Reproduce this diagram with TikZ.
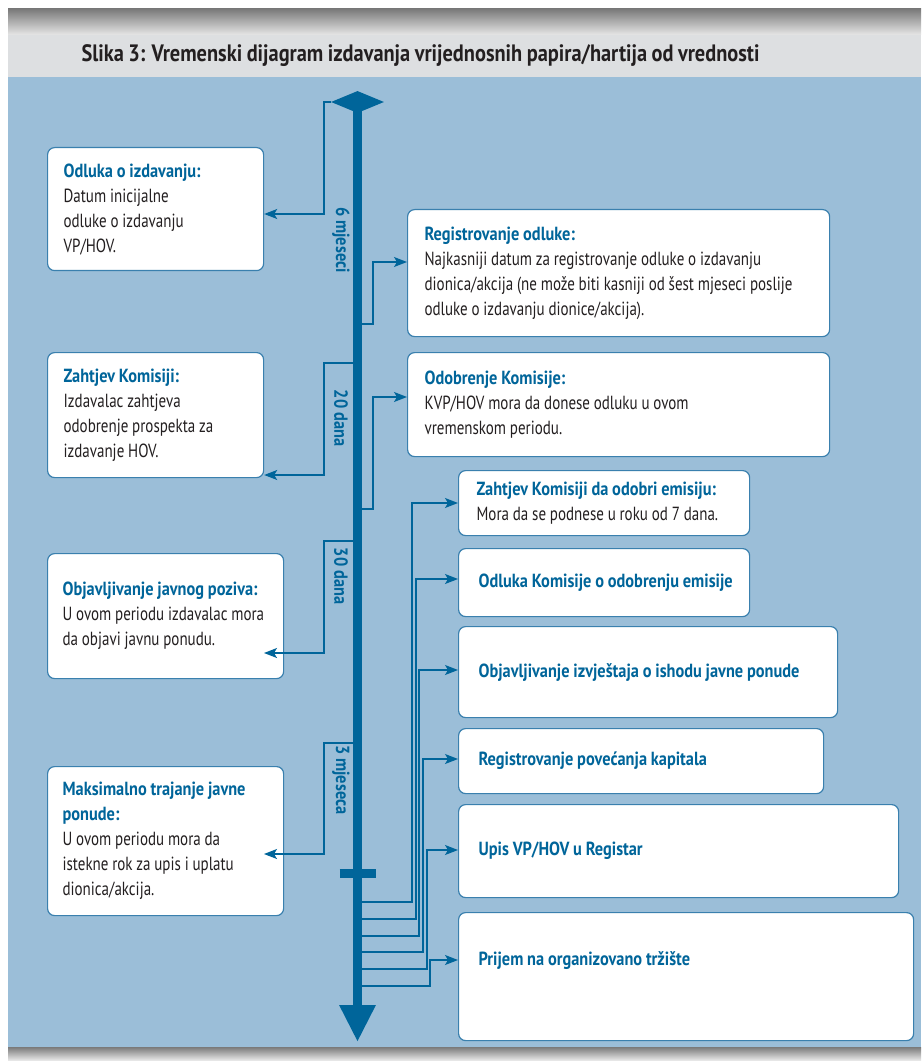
\documentclass[tikz,border=0pt]{standalone}
\usepackage{fontspec}
\setmainfont{PT Sans}[FakeStretch=0.79,BoldFeatures={FakeStretch=0.86}]
\usetikzlibrary{arrows.meta,positioning,shapes.geometric}
\definecolor{PanelBlue}{HTML}{9BBED8}
\definecolor{LineBlue}{HTML}{00659A}
\definecolor{FrameBlue}{HTML}{3A80AE}
\definecolor{TextGray}{HTML}{231F20}
\definecolor{BandGray}{HTML}{DDDFE1}
\definecolor{BarDark}{HTML}{7A7A7A}
\definecolor{BarLight}{HTML}{E6E6E6}
\newcommand{\boxhead}[1]{\mbox{\bfseries\color{LineBlue}#1}}
\newcommand{\bodyfont}{\fontsize{19}{25}\selectfont}
\newcommand{\narrowspace}{\spaceskip 3.8pt plus 1pt minus 0.5pt\relax}
\newcommand{\spanfont}{\fontsize{19}{20}\selectfont\bfseries\narrowspace}
\newcommand{\titlefont}{\fontsize{23.7}{28}\selectfont\bfseries\spaceskip 4.5pt\relax}

\begin{document}
\begin{tikzpicture}[x=1pt,y=-1pt,
  every node/.style={font=\bodyfont,text=TextGray},
  card/.style={draw=FrameBlue,line width=1.2pt,fill=white,rounded corners=7pt,
    anchor=north west,align=left,inner xsep=16pt,inner ysep=4pt,
    execute at begin node=\narrowspace},
  link/.style={draw=LineBlue,line width=1.3pt,
    -{Stealth[length=13pt,width=10pt,inset=3pt]}},
  span/.style={font=\spanfont,text=LineBlue,rotate=-90}]
  \useasboundingbox (0,0) rectangle (921,1064);

  % frame: bars, title band, panel
  \shade[top color=BarDark,bottom color=BarLight] (8,9) rectangle (921,35);
  \fill[BandGray] (8,35) rectangle (921,77);
  \fill[PanelBlue] (8,77) rectangle (921,1047);
  \shade[top color=BarDark,bottom color=BarLight] (8,1047) rectangle (921,1060);
  \node[anchor=west,font=\titlefont] (title) at (78,56)
    {Slika 3: Vremenski dijagram izdavanja vrijednosnih papira/hartija od vrednosti};

  % left column
  \node[card,minimum width=216pt,minimum height=123pt,text width=184pt] (odluka) at (47,147)
    {\boxhead{Odluka o izdavanju:}\\Datum inicijalne\\odluke o izdavanju\\VP/HOV.};
  \node[card,minimum width=216pt,minimum height=125pt,text width=184pt] (zahtjev) at (47,352)
    {\boxhead{Zahtjev Komisiji:}\\Izdavalac zahtjeva\\odobrenje prospekta za\\izdavanje HOV.};
  \node[card,inner xsep=15pt,minimum width=236pt,minimum height=125pt,text width=206pt] (poziv) at (47,553)
    {\boxhead{Objavljivanje javnog poziva:}\\U ovom periodu izdavalac mora\\da objavi javnu ponudu.};
  \node[card,inner xsep=15pt,minimum width=236pt,minimum height=149pt,text width=206pt] (trajanje) at (47,766)
    {\boxhead{Maksimalno trajanje javne}\\\boxhead{ponude:}\\U ovom periodu mora da\\istekne rok za upis i uplatu\\dionica/akcija.};

  % right column
  \node[card,inner xsep=17pt,minimum width=422pt,minimum height=127pt,text width=388pt] (regodluke) at (407,209)
    {\boxhead{Registrovanje odluke:}\\Najkasniji datum za registrovanje odluke o izdavanju\\dionica/akcija (ne može biti kasniji od šest mjeseci poslije\\odluke o izdavanju dionice/akcija).};
  \node[card,inner xsep=17pt,minimum width=422pt,minimum height=104pt,text width=388pt] (odobrenje) at (407,352)
    {\boxhead{Odobrenje Komisije:}\\KVP/HOV mora da donese odluku u ovom\\vremenskom periodu.};
  \node[card,inner xsep=18pt,minimum width=291pt,minimum height=65pt,text width=255pt] (emisija) at (458,470)
    {\boxhead{Zahtjev Komisiji da odobri emisiju:}\\Mora da se podnese u roku od 7 dana.};
  \node[card,inner xsep=20pt,minimum width=291pt,minimum height=68pt,text width=251pt] (odobrenjeem) at (458,548)
    {\boxhead{Odluka Komisije o odobrenju emisije}};
  \node[card,inner xsep=20pt,minimum width=379pt,minimum height=91pt,text width=339pt] (izvjestaj) at (458,626)
    {\boxhead{Objavljivanje izvještaja o ishodu javne ponude}};
  \node[card,inner xsep=20pt,minimum width=365pt,minimum height=65pt,text width=325pt] (kapital) at (458,728)
    {\boxhead{Registrovanje povećanja kapitala}};
  \node[card,inner xsep=20pt,minimum width=440pt,minimum height=93pt,text width=400pt] (upis) at (458,804)
    {\boxhead{Upis VP/HOV u Registar}};
  \node[card,inner xsep=20pt,minimum width=455pt,minimum height=128pt,text width=415pt,text depth=37pt] (trziste) at (458,912)
    {\boxhead{Prijem na organizovano tržište}};

  % timeline points
  \node[diamond,fill=LineBlue,inner sep=0pt,minimum width=53pt,minimum height=22pt] (start) at (357.5,102) {};
  \coordinate (t20) at (357.5,363);
  \coordinate (t30) at (357.5,541);
  \coordinate (t3m) at (357.5,743);
  \coordinate (r1) at (357.5,324);
  \coordinate (r2) at (357.5,509);
  \coordinate (e1) at (357.5,902);
  \coordinate (e2) at (357.5,919);
  \coordinate (e3) at (357.5,936);
  \coordinate (e4) at (357.5,952);
  \coordinate (e5) at (357.5,969);
  \coordinate (e6) at (357.5,986);
  \coordinate (tick) at (357.5,873.5);
  \coordinate (finish) at (357.5,1042);
  \coordinate (pozivtip) at (264,653);
  \coordinate (trajanjetip) at (264,854);

  % brackets to the left
  \draw[link] (start.west) -| (324,214) -- (odluka.east |- 0,214);
  \draw[link] (t20) -| (324,475) -- (zahtjev.east |- 0,475);
  \draw[link] (t30) -| (324,653) -- (pozivtip);
  \draw[link] (t3m) -| (324,854) -- (trajanjetip);
  \node[span] (m6) at (341,240) {6 mjeseci};
  \node[span] (d20) at (341,418) {20 dana};
  \node[span] (d30) at (341,576) {30 dana};
  \node[span] (m3) at (341,780) {3 mjeseca};

  % links to the right
  \draw[link] (r1) -| (373,262) -- (regodluke.west |- 0,262);
  \draw[link] (r2) -| (373,397) -- (odobrenje.west |- 0,397);
  \draw[link] (e1) -| (412,503) -- (emisija.west |- 0,503);
  \draw[link] (e2) -| (416,579) -- (odobrenjeem.west |- 0,579);
  \draw[link] (e3) -| (419,670) -- (izvjestaj.west |- 0,670);
  \draw[link] (e4) -| (423,759) -- (kapital.west |- 0,759);
  \draw[link] (e5) -| (427,850) -- (upis.west |- 0,850);
  \draw[link] (e6) -| (430,960) -- (trziste.west |- 0,960);

  % the time axis itself
  \draw[LineBlue,line width=9pt,-{Triangle[length=37pt,width=34pt]}] (start.center) -- (finish);
  \draw[LineBlue,line width=9pt] ([xshift=-18pt]tick) -- ([xshift=18pt]tick);
\end{tikzpicture}
\end{document}
